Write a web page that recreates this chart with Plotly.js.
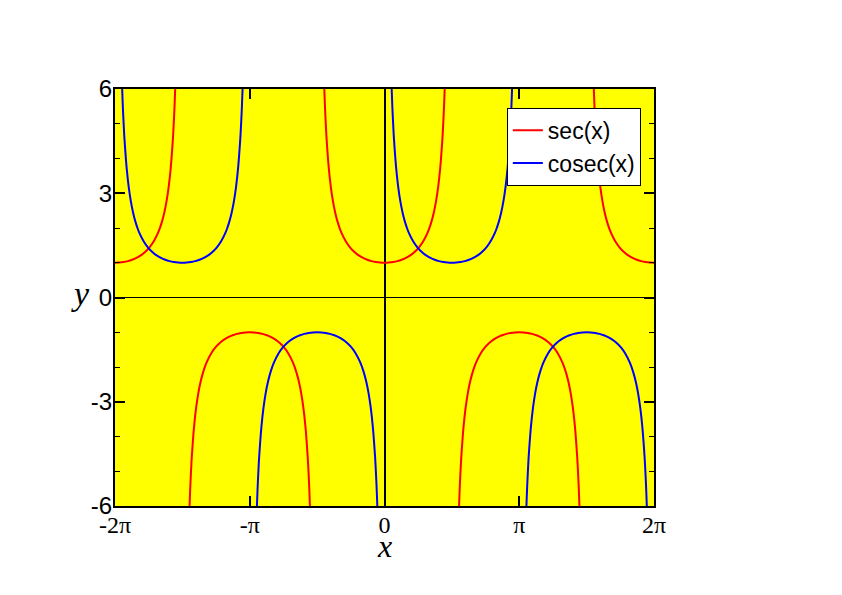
<!DOCTYPE html>
<html><head><meta charset="utf-8">
<script src="https://cdn.plot.ly/plotly-3.0.1.min.js"></script>
<style>html,body{margin:0;padding:0;background:#fff}#chart{width:842px;height:595px}</style>
</head><body><div id="chart"></div>
<script>
// Values of |sec| read along one branch, at offsets from the branch centre
const branchOffsets = [0,0.1,0.2,0.3,0.4,0.5,0.6,0.7,0.8,0.9,1.0,1.05,1.1,1.15,1.2,1.25,1.3,1.35,1.36,1.38,1.39,1.4033];
const branchValues  = [1,1.005,1.0203,1.0468,1.0857,1.1395,1.2116,1.3075,1.4353,1.6087,1.8508,2.0098,2.2046,2.448,2.7597,3.1714,3.7383,4.5661,4.779,5.2732,5.561,6.0];
// Branch centres (in units of pi) and signs for each series
const secCenters   = [-2, -1, 0, 1, 2];
const secSigns     = [1, -1, 1, -1, 1];
const cosecCenters = [-1.5, -0.5, 0.5, 1.5];
const cosecSigns   = [1, -1, 1, -1];
const xTickVals  = [-2, -1, 0, 1, 2];
const xTickText  = ['-2π', '-π', '0', 'π', '2π'];
const yTickVals  = [-6, -3, 0, 3, 6];
const yTickText  = ['-6', '-3', '0', '3', '6'];

const PI = Math.PI, XMIN = -2*PI, XMAX = 2*PI;
function build(centers, signs){
  const xs = [], ys = [];
  centers.forEach((c, i) => {
    const cx = c*PI;
    const pts = [];
    for (let k = branchOffsets.length-1; k > 0; k--) pts.push([cx - branchOffsets[k], signs[i]*branchValues[k]]);
    for (let k = 0; k < branchOffsets.length; k++) pts.push([cx + branchOffsets[k], signs[i]*branchValues[k]]);
    pts.filter(p => p[0] >= XMIN-1e-9 && p[0] <= XMAX+1e-9).forEach(p => { xs.push(p[0]); ys.push(p[1]); });
    xs.push(null); ys.push(null);
  });
  return {x: xs, y: ys};
}
const sec = build(secCenters, secSigns);
const cosec = build(cosecCenters, cosecSigns);

const traces = [
  {x: sec.x, y: sec.y, mode: 'lines', name: 'sec(x)', line: {color: '#ff0000', width: 2, shape: 'spline'}, connectgaps: false},
  {x: cosec.x, y: cosec.y, mode: 'lines', name: 'cosec(x)', line: {color: '#0000ff', width: 2, shape: 'spline'}, connectgaps: false}
];
const serif = 'Liberation Serif, Times New Roman, serif';
const sans = 'Liberation Sans, Arial, sans-serif';
const layout = {
  width: 842, height: 595,
  margin: {l: 115, r: 188, t: 89, b: 89},
  paper_bgcolor: '#ffffff', plot_bgcolor: '#ffff00',
  showlegend: true,
  legend: {x: 0.727, y: 0.955, xanchor: 'left', yanchor: 'top', bgcolor: '#ffffff', bordercolor: '#000000', borderwidth: 1,
           font: {family: sans, size: 23, color: '#000'}, tracegroupgap: 0},
  xaxis: {range: [XMIN, XMAX], tickvals: xTickVals.map(v => v*PI), ticktext: xTickText,
          ticks: 'inside', ticklen: 10, tickwidth: 2, tickcolor: '#000', mirror: 'allticks',
          showline: true, linewidth: 2, linecolor: '#000', showgrid: false,
          zeroline: true, zerolinewidth: 2, zerolinecolor: '#000', ticklabelstandoff: -4,
          tickfont: {family: serif, size: 24, color: '#000'}},
  yaxis: {range: [-6, 6], tickvals: yTickVals, ticktext: yTickText,
          ticks: 'inside', ticklen: 10, tickwidth: 2, tickcolor: '#000', mirror: 'allticks',
          minor: {dtick: 1, ticks: 'inside', ticklen: 5, tickwidth: 1, tickcolor: '#000', showgrid: false},
          showline: true, linewidth: 2, linecolor: '#000', showgrid: false,
          zeroline: true, zerolinewidth: 1, zerolinecolor: '#000', ticklabelstandoff: -4,
          tickfont: {family: sans, size: 24, color: '#000'}},
  annotations: [
    {text: '<i>y</i>', xref: 'paper', yref: 'paper', x: -0.064, y: 0.51, xanchor: 'center', yanchor: 'middle', showarrow: false,
     font: {family: serif, size: 34, color: '#000'}},
    {text: '<i>x</i>', xref: 'paper', yref: 'paper', x: 0.5, y: -0.097, xanchor: 'center', yanchor: 'middle', showarrow: false,
     font: {family: serif, size: 32, color: '#000'}}
  ]
};
Plotly.newPlot('chart', traces, layout, {displayModeBar: false, staticPlot: true});
</script></body></html>
